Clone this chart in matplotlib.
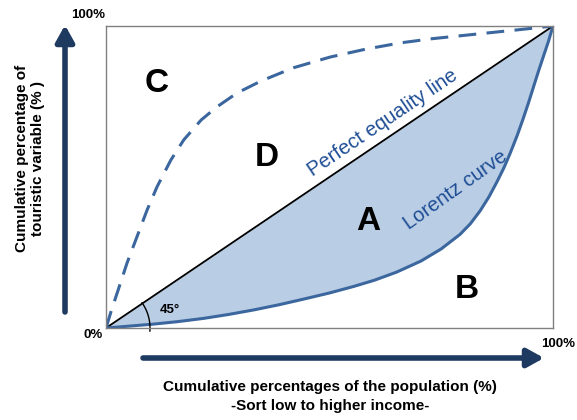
import numpy as np
import matplotlib
matplotlib.use("Agg")
import matplotlib.pyplot as plt

plt.rcParams['font.family'] = ['Liberation Sans', 'DejaVu Sans']

# Lorentz curve (cumulative population share, cumulative share of variable)
lorentz_x = [0.0, 0.05, 0.107, 0.16, 0.219, 0.275, 0.331, 0.387, 0.443, 0.5,
             0.555, 0.6, 0.65, 0.705, 0.75, 0.792, 0.815, 0.837, 0.857, 0.875,
             0.89, 0.904, 0.92, 0.933, 0.945, 0.955, 0.967, 0.978, 0.99, 1.0]
lorentz_y = [0.0, 0.006, 0.013, 0.021, 0.032, 0.045, 0.060, 0.077, 0.096, 0.116,
             0.138, 0.158, 0.185, 0.222, 0.262, 0.310, 0.345, 0.388, 0.435, 0.485,
             0.53, 0.578, 0.638, 0.692, 0.745, 0.792, 0.848, 0.897, 0.95, 1.0]

# mirrored (dashed) curve
dashed_x = [0.0, 0.012, 0.025, 0.047, 0.069, 0.092, 0.114, 0.145, 0.174, 0.213,
            0.248, 0.293, 0.347, 0.42, 0.501, 0.58, 0.658, 0.73, 0.808, 0.919, 1.0]
dashed_y = [0.0, 0.058, 0.116, 0.215, 0.301, 0.391, 0.467, 0.556, 0.623, 0.689,
            0.732, 0.778, 0.818, 0.862, 0.897, 0.923, 0.944, 0.958, 0.970, 0.987, 1.0]

equality = [0.0, 1.0]

W, H = 577, 420
fig = plt.figure(figsize=(W / 100, H / 100), dpi=100)

# axes box in pixels: left 106, right 553, top 26, bottom 328
ax = fig.add_axes([106 / W, (H - 328) / H, 447 / W, 302 / H])
ax.set_xlim(0, 1)
ax.set_ylim(0, 1)
ax.set_xticks([])
ax.set_yticks([])
for s in ax.spines.values():
    s.set_color('#808080')
    s.set_linewidth(1.0)

line_col = '#3b679e'
text_col = '#1f4e95'
arrow_col = '#1f3a60'

lx = np.array(lorentz_x)
ly = np.array(lorentz_y)
ax.fill_between(lx, lx, ly, color='#b9cde5', lw=0)
ax.plot(equality, equality, color='black', lw=1.3)
ax.plot(lx, ly, color=line_col, lw=2.2, solid_capstyle='round', solid_joinstyle='round')
ax.plot(dashed_x, dashed_y, color=line_col, lw=2.2, dashes=(5.8, 3.4))

# 45 degree arc (radius in pixels)
r = 44
t = np.radians(np.linspace(-4, 35, 40))
ax.plot(r / 447 * np.cos(t), r / 302 * np.sin(t), color='black', lw=1.0, clip_on=False)


def px(x, y):
    return x / W, 1 - y / H


# area letters
for letter, (x, y) in zip("CDAB", [(157, 84), (267, 157), (368, 221), (467, 290)]):
    fig.text(*px(x, y), letter, fontsize=24, fontweight='bold', ha='center', va='center')

fig.text(*px(170, 310), "45°", fontsize=9.5, fontweight='bold', ha='center', va='center')

fig.text(*px(383, 123), "Perfect equality line", fontsize=14.5, color=text_col,
         rotation=34, rotation_mode='anchor', ha='center', va='center')
fig.text(*px(456, 190), "Lorentz curve", fontsize=14.5, color=text_col,
         rotation=35.5, rotation_mode='anchor', ha='center', va='center')

# corner labels
fig.text(*px(103, 335), "0%", fontsize=9.5, fontweight='bold', ha='right', va='center')
fig.text(*px(105, 15), "100%", fontsize=9.5, fontweight='bold', ha='right', va='center')
fig.text(*px(541, 344), "100%", fontsize=9.5, fontweight='bold', ha='left', va='center')

# axis arrows
arrow_style = dict(arrowstyle='-|>,head_length=0.45,head_width=0.25', lw=4,
                   color=arrow_col, shrinkA=0, shrinkB=0, mutation_scale=22)
ax.annotate('', xy=(65, H - 25), xytext=(65, H - 312), xycoords='figure pixels',
            textcoords='figure pixels', arrowprops=arrow_style)
ax.annotate('', xy=(544, H - 358), xytext=(143, H - 358), xycoords='figure pixels',
            textcoords='figure pixels', arrowprops=arrow_style)

# axis titles
fig.text(*px(30, 158), "Cumulative percentage of\ntouristic variable (% )", fontsize=11,
         fontweight='bold', rotation=90, ha='center', va='center', linespacing=1.15)
fig.text(*px(330, 387), "Cumulative percentages of the population (%)", fontsize=11,
         fontweight='bold', ha='center', va='center')
fig.text(*px(330, 406), "-Sort low to higher income-", fontsize=11,
         fontweight='bold', ha='center', va='center')

fig.savefig("out.png", dpi=100)
